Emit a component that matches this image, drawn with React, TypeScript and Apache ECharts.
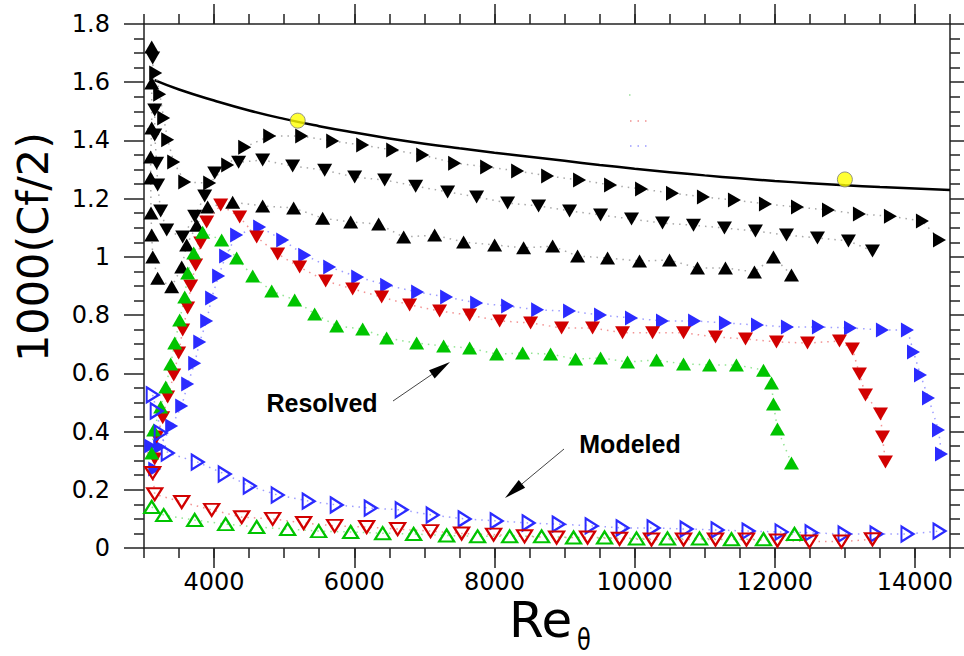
import React, { useEffect, useRef } from 'react';
import * as echarts from 'echarts';

const xTicks = [4000, 6000, 8000, 10000, 12000, 14000];
const yTicks = [0, 0.2, 0.4, 0.6, 0.8, 1, 1.2, 1.4, 1.6, 1.8];

const correlationLine = [
  [3150, 1.607], [3500, 1.575], [4000, 1.537], [4500, 1.503], [5000, 1.474], [5500, 1.449],
  [6000, 1.427], [6500, 1.407], [7000, 1.389], [7500, 1.373], [8000, 1.358], [8500, 1.344],
  [9000, 1.33], [9500, 1.316], [10000, 1.303], [10500, 1.291], [11000, 1.28], [11500, 1.27],
  [12000, 1.261], [12500, 1.253], [13000, 1.246], [13500, 1.24], [14000, 1.235], [14500, 1.23],
];
const refPoints = [[5193, 1.468], [13000, 1.266]];

const blackRight = [
  [3167, 1.632], [3224, 1.559], [3281, 1.477], [3338, 1.402], [3424, 1.326], [3581, 1.257],
  [3937, 1.254], [4194, 1.316], [4437, 1.377], [4793, 1.415], [5250, 1.415], [5692, 1.398],
  [6120, 1.384], [6548, 1.367], [6976, 1.35], [7432, 1.322], [7889, 1.309], [8331, 1.295],
  [8759, 1.278], [9215, 1.264], [9657, 1.247], [10099, 1.233], [10541, 1.219], [10982, 1.206],
  [11424, 1.195], [11867, 1.182], [12324, 1.171], [12766, 1.161], [13208, 1.147], [13650, 1.14],
  [14107, 1.123], [14350, 1.058],
];
const blackDown = [
  [3124, 1.683], [3153, 1.505], [3153, 1.419], [3181, 1.322], [3195, 1.247], [3238, 1.158],
  [3324, 1.092], [3552, 1.068], [3723, 1.14], [3866, 1.209], [4009, 1.288], [4350, 1.325],
  [4693, 1.333], [5121, 1.312], [5578, 1.298], [6006, 1.274], [6434, 1.264], [6876, 1.243],
  [7332, 1.223], [7746, 1.206], [8188, 1.185], [8630, 1.175], [9072, 1.158], [9514, 1.144],
  [9956, 1.13], [10398, 1.116], [10840, 1.109], [11282, 1.099], [11724, 1.089], [12167, 1.075],
  [12609, 1.065], [13051, 1.055], [13394, 1.02],
];
const blackUp = [
  [3110, 1.721], [3110, 1.597], [3110, 1.443], [3095, 1.343], [3095, 1.271], [3100, 1.151],
  [3110, 1.075], [3125, 1.0], [3195, 0.927], [3395, 0.897], [3538, 0.965], [3609, 1.041],
  [3752, 1.109], [3908, 1.171], [4265, 1.188], [4693, 1.175], [5135, 1.168], [5549, 1.133],
  [5949, 1.12], [6348, 1.113], [6705, 1.068], [7147, 1.075], [7560, 1.051], [8003, 1.041],
  [8416, 1.031], [8830, 1.037], [9186, 1.003], [9614, 0.996], [10070, 0.986], [10498, 0.989],
  [10897, 0.962], [11296, 0.962], [11710, 0.948], [11981, 1.0], [12238, 0.938],
];
const blueResolved = [
  [3153, 0.271], [3096, 0.35], [3224, 0.347], [3395, 0.419], [3538, 0.488], [3623, 0.563],
  [3723, 0.635], [3795, 0.708], [3894, 0.78], [3965, 0.859], [4065, 0.934], [4165, 1.003],
  [4322, 1.075], [4650, 1.103], [4979, 1.058], [5293, 1.006], [5649, 0.965], [6049, 0.931],
  [6462, 0.903], [6904, 0.879], [7318, 0.862], [7746, 0.842], [8188, 0.831], [8616, 0.818],
  [9072, 0.814], [9514, 0.8], [9956, 0.79], [10398, 0.78], [10855, 0.78], [11296, 0.773],
  [11753, 0.766], [12181, 0.759], [12623, 0.759], [13080, 0.756], [13536, 0.749], [13893, 0.749],
  [13979, 0.673], [14079, 0.594], [14193, 0.515], [14336, 0.405], [14379, 0.323],
];
const redResolved = [
  [3153, 0.306], [3181, 0.381], [3267, 0.447], [3338, 0.519], [3424, 0.594], [3495, 0.67],
  [3552, 0.749], [3623, 0.824], [3666, 0.9], [3737, 0.972], [3809, 1.048], [3894, 1.12],
  [4094, 1.178], [4365, 1.137], [4608, 1.068], [4907, 1.01], [5221, 0.965], [5592, 0.917],
  [5977, 0.89], [6391, 0.862], [6790, 0.835], [7218, 0.814], [7646, 0.8], [8074, 0.78],
  [8516, 0.773], [8958, 0.756], [9400, 0.756], [9828, 0.739], [10256, 0.739], [10698, 0.739],
  [11154, 0.725], [11582, 0.718], [12024, 0.708], [12467, 0.704], [12923, 0.711], [13108, 0.684],
  [13208, 0.598], [13294, 0.526], [13508, 0.46], [13537, 0.381], [13579, 0.295],
];
const greenResolved = [
  [3110, 0.326], [3138, 0.405], [3238, 0.484], [3310, 0.553], [3381, 0.632], [3438, 0.704],
  [3509, 0.783], [3581, 0.862], [3623, 0.945], [3709, 1.013], [3837, 1.085], [4108, 1.058],
  [4322, 0.996], [4551, 0.934], [4822, 0.883], [5150, 0.852], [5435, 0.804], [5749, 0.763],
  [6120, 0.752], [6462, 0.721], [6890, 0.704], [7275, 0.694], [7646, 0.687], [8031, 0.666],
  [8402, 0.67], [8801, 0.666], [9158, 0.649], [9514, 0.653], [9899, 0.639], [10313, 0.646],
  [10698, 0.632], [11069, 0.629], [11453, 0.629], [11839, 0.611], [11953, 0.567], [11981, 0.495],
  [12038, 0.409], [12238, 0.292],
];
const blueModeled = [
  [3124, 0.526], [3181, 0.471], [3238, 0.395], [3338, 0.326], [3766, 0.295], [4151, 0.254],
  [4508, 0.213], [4907, 0.182], [5349, 0.161], [5749, 0.148], [6234, 0.137], [6676, 0.131],
  [7118, 0.113], [7574, 0.1], [8031, 0.093], [8487, 0.086], [8916, 0.082], [9386, 0.076],
  [9828, 0.069], [10270, 0.069], [10741, 0.065], [11183, 0.062], [11625, 0.058], [12096, 0.055],
  [12524, 0.052], [12995, 0.048], [13451, 0.048], [13893, 0.048], [14350, 0.058],
];
const redModeled = [
  [3124, 0.258], [3153, 0.185], [3538, 0.158], [3966, 0.131], [4394, 0.106], [4836, 0.1],
  [5278, 0.086], [5720, 0.076], [6177, 0.072], [6619, 0.065], [7089, 0.058], [7532, 0.05],
  [7988, 0.046], [8430, 0.04], [8887, 0.036], [9329, 0.036], [9785, 0.032], [10241, 0.029],
  [10698, 0.029], [11154, 0.029], [11596, 0.029], [12038, 0.026], [12495, 0.022], [12951, 0.022],
  [13394, 0.03],
];
const greenModeled = [
  [3110, 0.141], [3281, 0.113], [3723, 0.096], [4165, 0.082], [4608, 0.072], [5050, 0.065],
  [5492, 0.058], [5949, 0.055], [6405, 0.051], [6847, 0.048], [7318, 0.043], [7760, 0.04],
  [8217, 0.04], [8673, 0.04], [9129, 0.036], [9571, 0.036], [10027, 0.033], [10469, 0.033],
  [10926, 0.033], [11382, 0.03], [11839, 0.03], [12281, 0.048],
];

const FONT = '"Liberation Sans", Arial, Helvetica, sans-serif';
const TICKFONT = '"DejaVu Sans", "Liberation Sans", sans-serif';
const RED = '#d20000';
const GREEN = '#00c400';
const BLUE = '#2b2bff';

const SYM_UP = 'triangle';
const SYM_DOWN = 'path://M0,0L10,0L5,8.66Z';
const SYM_RIGHT = 'path://M0,0L8.66,5L0,10Z';

function markerSeries(
  name: string,
  data: number[][],
  symbol: string,
  size: number[],
  color: string,
  filled: boolean,
  lineColor: string,
  z: number
) {
  return {
    name,
    type: 'line',
    data,
    symbol,
    symbolSize: size,
    showSymbol: true,
    silent: true,
    z,
    itemStyle: filled
      ? { color, borderWidth: 0, opacity: 1 }
      : { color: 'rgba(255,255,255,0)', borderColor: color, borderWidth: 2.2, opacity: 1 },
    lineStyle: { color: lineColor, width: 1.5, type: [1.5, 5], opacity: 0.85 },
    emphasis: { disabled: true },
  };
}

function arrow(x1: number, y1: number, x2: number, y2: number, headLen: number, headW: number) {
  const dx = x2 - x1;
  const dy = y2 - y1;
  const L = Math.hypot(dx, dy);
  const ux = dx / L;
  const uy = dy / L;
  const bx = x2 - ux * headLen;
  const by = y2 - uy * headLen;
  const px = -uy;
  const py = ux;
  return [
    { type: 'line', shape: { x1, y1, x2: bx, y2: by }, style: { stroke: '#444', lineWidth: 1 } },
    {
      type: 'polygon',
      shape: { points: [[x2, y2], [bx + px * headW, by + py * headW], [bx - px * headW, by - py * headW]] },
      style: { fill: '#000' },
    },
  ];
}

const axisLineStyle = { color: '#222', width: 1.5 };

export default function App() {
  const ref = useRef<HTMLDivElement>(null);
  useEffect(() => {
    if (!ref.current) return;
    const chart = echarts.init(ref.current, null, { renderer: 'svg' });
    const xBase = { type: 'value', min: 3000, max: 14500, splitLine: { show: false }, gridIndex: 0 };
    const yBase = { type: 'value', min: 0, max: 1.8, interval: 0.2, splitLine: { show: false } };
    const option: any = {
      animation: false,
      backgroundColor: '#ffffff',
      grid: { left: 144, top: 24, width: 806, height: 524, show: false },
      xAxis: [
        {
          ...xBase,
          position: 'bottom',
          axisLine: { show: true, lineStyle: axisLineStyle },
          axisTick: { show: true, inside: false, length: 20, customValues: xTicks, lineStyle: axisLineStyle },
          axisLabel: {
            show: true,
            customValues: xTicks,
            margin: 22,
            fontSize: 24,
            fontFamily: TICKFONT,
            color: '#000',
            formatter: (v: number) => String(v),
          },
        },
        {
          ...xBase,
          position: 'bottom',
          interval: 500,
          axisLine: { show: false },
          axisTick: { show: true, inside: false, length: 10, lineStyle: axisLineStyle },
          axisLabel: { show: false },
        },
        {
          ...xBase,
          position: 'top',
          axisLine: { show: true, lineStyle: axisLineStyle },
          axisTick: { show: true, inside: false, length: 20, customValues: xTicks, lineStyle: axisLineStyle },
          axisLabel: { show: false },
        },
        {
          ...xBase,
          position: 'top',
          interval: 500,
          axisLine: { show: false },
          axisTick: { show: true, inside: false, length: 10, lineStyle: axisLineStyle },
          axisLabel: { show: false },
        },
      ],
      yAxis: [
        {
          ...yBase,
          position: 'left',
          axisLine: { show: true, lineStyle: axisLineStyle },
          axisTick: { show: true, inside: false, length: 20, lineStyle: axisLineStyle },
          minorTick: { show: true, splitNumber: 4, length: 10, lineStyle: axisLineStyle },
          axisLabel: {
            show: true,
            margin: 34,
            fontSize: 24,
            fontFamily: TICKFONT,
            color: '#000',
            customValues: yTicks,
            formatter: (v: number) => String(Math.round(v * 10) / 10),
          },
        },
        {
          ...yBase,
          position: 'right',
          axisLine: { show: true, lineStyle: axisLineStyle },
          axisTick: { show: true, inside: false, length: 20, lineStyle: axisLineStyle },
          minorTick: { show: true, splitNumber: 4, length: 10, lineStyle: axisLineStyle },
          axisLabel: { show: false },
        },
      ],
      series: [
        {
          name: 'Correlation',
          type: 'line',
          data: correlationLine,
          smooth: true,
          showSymbol: false,
          symbol: 'none',
          silent: true,
          z: 2,
          lineStyle: { color: '#000', width: 2.5 },
        },
        markerSeries('Resolved black up', blackUp, SYM_UP, [15, 13], '#000', true, '#999', 3),
        markerSeries('Resolved black down', blackDown, SYM_DOWN, [15, 13], '#000', true, '#999', 3),
        markerSeries('Resolved black right', blackRight, SYM_RIGHT, [13, 15], '#000', true, '#999', 3),
        markerSeries('Resolved blue', blueResolved, SYM_RIGHT, [13, 15], BLUE, true, '#8c8cff', 4),
        markerSeries('Resolved red', redResolved, SYM_DOWN, [15, 13], RED, true, '#f08080', 4),
        markerSeries('Resolved green', greenResolved, SYM_UP, [15, 13], GREEN, true, '#80e080', 4),
        markerSeries('Modeled blue', blueModeled, SYM_RIGHT, [12, 15], BLUE, false, '#8c8cff', 4),
        markerSeries('Modeled red', redModeled, SYM_DOWN, [15, 12], RED, false, '#f08080', 4),
        markerSeries('Modeled green', greenModeled, SYM_UP, [15, 12], GREEN, false, '#80e080', 4),
        {
          name: 'Reference',
          type: 'scatter',
          data: refPoints,
          symbol: 'circle',
          symbolSize: 15,
          silent: true,
          z: 5,
          itemStyle: { color: '#ffff00', borderColor: '#777', borderWidth: 1 },
        },
      ],
      graphic: [
        {
          type: 'text',
          x: 33,
          y: 247,
          rotation: Math.PI / 2,
          style: {
            text: '1000(Cf/2)',
            fontSize: 43,
            fontFamily: TICKFONT,
            fill: '#000',
            align: 'center',
            verticalAlign: 'middle',
          },
        },
        {
          type: 'text',
          x: 509,
          y: 620,
          style: { text: 'Re', fontSize: 50, fontFamily: TICKFONT, fill: '#000', align: 'left', verticalAlign: 'middle' },
        },
        {
          type: 'text',
          x: 577,
          y: 639,
          scaleX: 0.75,
          style: { text: 'θ', fontSize: 30, fontFamily: TICKFONT, fill: '#000', align: 'left', verticalAlign: 'middle' },
        },
        {
          type: 'text',
          x: 322,
          y: 403,
          style: { text: 'Resolved', fontSize: 25, fontWeight: 'bold', fontFamily: FONT, fill: '#000', align: 'center', verticalAlign: 'middle' },
        },
        {
          type: 'text',
          x: 630,
          y: 444,
          style: { text: 'Modeled', fontSize: 25, fontWeight: 'bold', fontFamily: FONT, fill: '#000', align: 'center', verticalAlign: 'middle' },
        },
        ...arrow(393, 401, 450, 362, 22, 5),
        ...arrow(564, 449, 505, 498, 22, 5),
        { type: 'line', shape: { x1: 629, y1: 95, x2: 634, y2: 95 }, style: { stroke: '#9be09b', lineWidth: 1.5, lineDash: [1.5, 6] } },
        { type: 'line', shape: { x1: 630, y1: 121, x2: 650, y2: 121 }, style: { stroke: '#f09090', lineWidth: 1.5, lineDash: [1.5, 6] } },
        { type: 'line', shape: { x1: 630, y1: 146, x2: 650, y2: 146 }, style: { stroke: '#9a9aff', lineWidth: 1.5, lineDash: [1.5, 6] } },
      ],
    };
    chart.setOption(option);
    return () => chart.dispose();
  }, []);
  return <div ref={ref} style={{ position: 'absolute', left: 0, top: 0, width: 964, height: 656 }} />;
}
